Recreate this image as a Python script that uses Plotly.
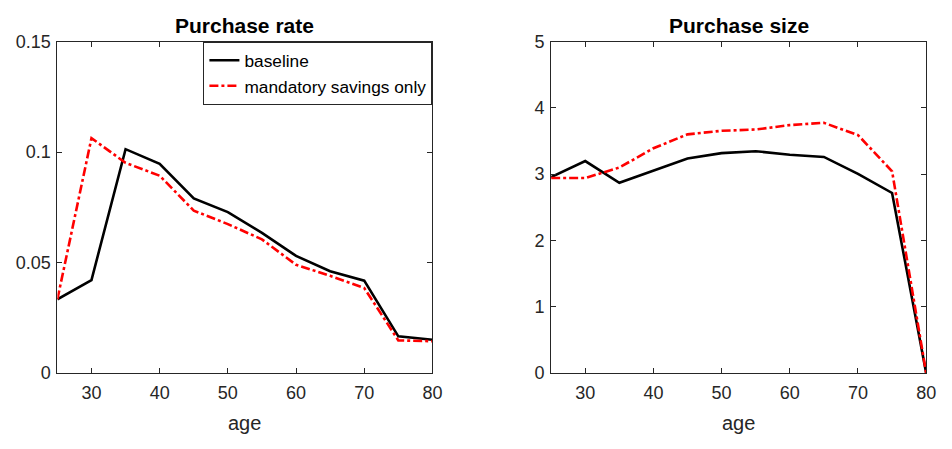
import plotly.graph_objects as go

ages = [25, 30, 35, 40, 45, 50, 55, 60, 65, 70, 75, 80]
rate_baseline = [0.0334, 0.0421, 0.1013, 0.0947, 0.0790, 0.0728, 0.0634, 0.0530, 0.0461, 0.0418, 0.0166, 0.0151]
rate_mandatory = [0.0334, 0.1063, 0.0951, 0.0893, 0.0735, 0.0674, 0.0605, 0.0490, 0.0440, 0.0385, 0.0148, 0.0144]
size_baseline = [2.957, 3.197, 2.870, 3.053, 3.236, 3.317, 3.346, 3.293, 3.260, 3.005, 2.716, 0.0]
size_mandatory = [2.942, 2.942, 3.10, 3.39, 3.60, 3.654, 3.673, 3.74, 3.774, 3.59, 3.043, 0.0]

W, H = 952, 449
FONT = "Liberation Sans, Arial, Helvetica, sans-serif"
AX = "#262626"

fig = go.Figure()
fig.add_trace(go.Scatter(x=ages, y=rate_baseline, mode="lines", name="baseline",
                         line=dict(color="black", width=2.6), xaxis="x", yaxis="y"))
fig.add_trace(go.Scatter(x=ages, y=rate_mandatory, mode="lines", name="mandatory savings only",
                         line=dict(color="#ff0000", width=2.6, dash="dashdot"), xaxis="x", yaxis="y"))
fig.add_trace(go.Scatter(x=ages, y=size_baseline, mode="lines", name="baseline", showlegend=False,
                         line=dict(color="black", width=2.6), xaxis="x2", yaxis="y2"))
fig.add_trace(go.Scatter(x=ages, y=size_mandatory, mode="lines", name="mandatory savings only", showlegend=False,
                         line=dict(color="#ff0000", width=2.6, dash="dashdot"), xaxis="x2", yaxis="y2"))

ydom = [1 - 380 / H, 1 - 33 / H]
common_ax = dict(showline=True, linecolor=AX, linewidth=1, mirror="ticks", ticks="inside",
                 ticklen=5, tickcolor=AX, showgrid=False, zeroline=False,
                 tickfont=dict(family=FONT, size=18, color=AX))

fig.update_layout(
    width=W, height=H, margin=dict(l=0, r=0, t=0, b=0),
    paper_bgcolor="white", plot_bgcolor="white",
    font=dict(family=FONT, color=AX),
    xaxis=dict(domain=[58 / W, 437 / W], range=[25, 80], tick0=0, dtick=10, anchor="y",
               ticklabelstandoff=3, **common_ax),
    yaxis=dict(domain=ydom, range=[0, 0.15], tickvals=[0, 0.05, 0.1, 0.15],
               ticktext=["0", "0.05", "0.1", "0.15"], anchor="x", ticklabelstandoff=2, **common_ax),
    xaxis2=dict(domain=[557 / W, 936 / W], range=[25, 80], tick0=0, dtick=10, anchor="y2",
                ticklabelstandoff=3, **common_ax),
    yaxis2=dict(domain=ydom, range=[0, 5], dtick=1, anchor="x2", ticklabelstandoff=2, **common_ax),
    legend=dict(x=437 / W, xanchor="right", y=1 - 33 / H, yanchor="top",
                bgcolor="white", bordercolor=AX, borderwidth=1,
                font=dict(family=FONT, size=17.3, color="black"), tracegroupgap=0),
    showlegend=True,
    annotations=[
        dict(text="<b>Purchase rate</b>", x=(58 + 437) / 2 / W, y=1 - 16 / H, xref="paper", yref="paper",
             showarrow=False, font=dict(family=FONT, size=21, color="black"), xanchor="center", yanchor="middle"),
        dict(text="<b>Purchase size</b>", x=(557 + 936) / 2 / W, y=1 - 16 / H, xref="paper", yref="paper",
             showarrow=False, font=dict(family=FONT, size=21, color="black"), xanchor="center", yanchor="middle"),
        dict(text="age", x=(58 + 437) / 2 / W, y=1 - 432 / H, xref="paper", yref="paper",
             showarrow=False, font=dict(family=FONT, size=20, color=AX), xanchor="center", yanchor="middle"),
        dict(text="age", x=(557 + 936) / 2 / W, y=1 - 432 / H, xref="paper", yref="paper",
             showarrow=False, font=dict(family=FONT, size=20, color=AX), xanchor="center", yanchor="middle"),
    ],
)

fig.write_html("out.html")
